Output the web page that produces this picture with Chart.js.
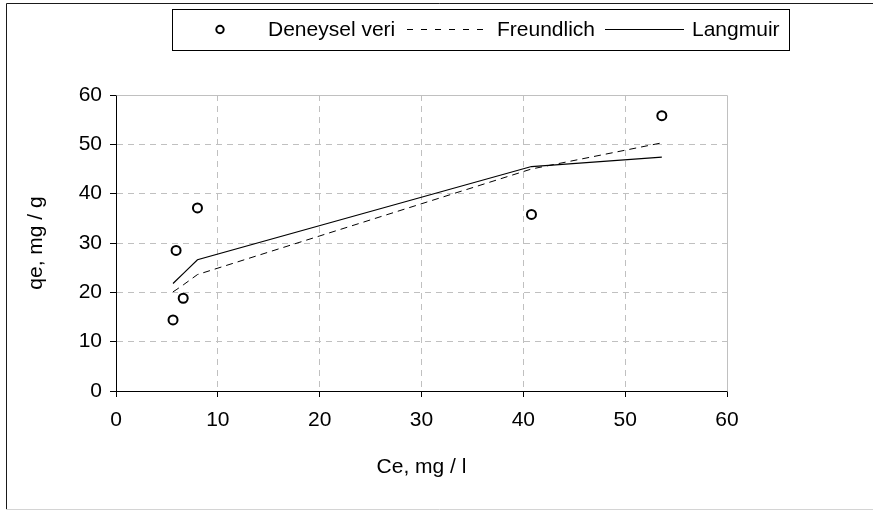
<!DOCTYPE html>
<html>
<head>
<meta charset="utf-8">
<script src="https://cdn.jsdelivr.net/npm/chart.js@4/dist/chart.umd.min.js"></script>
<style>
  html, body { margin: 0; padding: 0; background: #ffffff; }
  #wrap { width: 873px; height: 511px; position: relative; }
</style>
</head>
<body>
<div id="wrap"><canvas id="chart" width="873" height="511"></canvas></div>
<script>
// Equilibrium concentration (mg/l) and adsorbed amount (mg/g)
const ceValues      = [5.6, 5.9, 6.6, 8.0, 40.8, 53.6];
const qeMeasured    = [14.4, 28.5, 18.8, 37.1, 35.8, 55.8];
const qeFreundlich  = [20.1, 20.5, 21.5, 23.6, 45.0, 50.3];
const qeLangmuir    = [21.8, 22.4, 23.8, 26.6, 45.5, 47.4];
const seriesNames   = ['Deneysel veri', 'Freundlich', 'Langmuir'];
const axisTicks     = [0, 10, 20, 30, 40, 50, 60];

const FONT = '"Liberation Sans", Arial, sans-serif';
const FONT_SIZE = 21;
const toPoints = ys => ceValues.map((x, i) => ({ x: x, y: ys[i] }));

// Frame around the whole figure and the plot area
const framePlugin = {
  id: 'frame',
  beforeDatasetsDraw(chart) {
    const { ctx, chartArea: a } = chart;
    ctx.save();
    ctx.strokeStyle = '#c0c0c0';
    ctx.lineWidth = 1;
    ctx.beginPath();
    ctx.moveTo(Math.round(a.left) + 0.5, Math.round(a.top) + 0.5);
    ctx.lineTo(Math.round(a.right) + 0.5, Math.round(a.top) + 0.5);
    ctx.lineTo(Math.round(a.right) + 0.5, Math.round(a.bottom) + 0.5);
    ctx.stroke();
    ctx.restore();
  },
  afterDraw(chart) {
    const { ctx } = chart;
    ctx.save();
    ctx.lineWidth = 1;
    ctx.strokeStyle = '#1a1a1a';
    ctx.beginPath();
    ctx.moveTo(6.5, 510);
    ctx.lineTo(6.5, 3.5);
    ctx.lineTo(873, 3.5);
    ctx.stroke();
    ctx.strokeStyle = '#d4d4d4';
    ctx.beginPath();
    ctx.moveTo(6, 509.5);
    ctx.lineTo(873, 509.5);
    ctx.stroke();
    ctx.restore();
  }
};

// Boxed legend across the top
const boxLegend = {
  id: 'boxLegend',
  afterDraw(chart) {
    const { ctx } = chart;
    const ds = chart.data.datasets;
    const cy = 29.5;
    ctx.save();
    ctx.strokeStyle = '#000';
    ctx.lineWidth = 1;
    ctx.strokeRect(172.5, 9.5, 617, 41);

    ctx.font = FONT_SIZE + 'px ' + FONT;
    ctx.fillStyle = '#000';
    ctx.textBaseline = 'middle';
    ctx.textAlign = 'left';

    // measured points marker
    ctx.lineWidth = 2;
    ctx.beginPath();
    ctx.arc(220, cy, 3.7, 0, Math.PI * 2);
    ctx.stroke();
    ctx.fillText(ds[0].label, 268, cy + 1);

    // Freundlich dashed sample
    ctx.lineWidth = 1;
    ctx.setLineDash([6, 8]);
    ctx.beginPath();
    ctx.moveTo(407, cy);
    ctx.lineTo(490, cy);
    ctx.stroke();
    ctx.setLineDash([]);
    ctx.fillText(ds[1].label, 497, cy + 1);

    // Langmuir solid sample
    ctx.beginPath();
    ctx.moveTo(605, cy);
    ctx.lineTo(684, cy);
    ctx.stroke();
    ctx.fillText(ds[2].label, 692, cy + 1);
    ctx.restore();
  }
};

const gridColor = ctx => {
  const v = ctx.tick ? ctx.tick.value : null;
  return (v === axisTicks[0] || v === axisTicks[axisTicks.length - 1]) ? 'rgba(0,0,0,0)' : '#c0c0c0';
};

const axisCommon = {
  type: 'linear',
  min: axisTicks[0],
  max: axisTicks[axisTicks.length - 1],
  grid: {
    color: gridColor,
    lineWidth: 1,
    drawTicks: true,
    tickLength: 6,
    tickColor: '#000',
    tickWidth: 1
  },
  border: { display: true, color: '#000', width: 1, dash: [6, 5] }
};

new Chart(document.getElementById('chart'), {
  type: 'scatter',
  data: {
    datasets: [
      {
        label: seriesNames[0],
        data: toPoints(qeMeasured),
        showLine: false,
        pointStyle: 'circle',
        pointRadius: 4.5,
        pointBorderWidth: 2,
        pointBorderColor: '#000',
        pointBackgroundColor: 'rgba(255,255,255,0)',
        order: 0
      },
      {
        label: seriesNames[1],
        data: toPoints(qeFreundlich),
        showLine: true,
        borderColor: '#000',
        borderWidth: 1,
        borderDash: [7, 5],
        pointRadius: 0,
        fill: false,
        tension: 0,
        order: 1
      },
      {
        label: seriesNames[2],
        data: toPoints(qeLangmuir),
        showLine: true,
        borderColor: '#000',
        borderWidth: 1.2,
        pointRadius: 0,
        fill: false,
        tension: 0,
        order: 2
      }
    ]
  },
  options: {
    responsive: false,
    animation: false,
    devicePixelRatio: 1,
    layout: { padding: { left: 0, top: 95, right: 146, bottom: 0 } },
    plugins: {
      legend: { display: false },
      tooltip: { enabled: false },
      title: { display: false }
    },
    scales: {
      x: Object.assign({}, axisCommon, {
        position: 'bottom',
        afterBuildTicks: s => { s.ticks = axisTicks.map(v => ({ value: v })); },
        afterFit: s => { s.height = 120; },
        ticks: {
          color: '#000',
          font: { family: FONT, size: FONT_SIZE },
          padding: 11,
          maxRotation: 0
        },
        title: {
          display: true,
          text: 'Ce, mg / l',
          color: '#000',
          font: { family: FONT, size: FONT_SIZE },
          padding: { top: 0, bottom: 31 }
        }
      }),
      y: Object.assign({}, axisCommon, {
        position: 'left',
        afterBuildTicks: s => { s.ticks = axisTicks.map(v => ({ value: v })); },
        afterFit: s => { s.width = 116; },
        ticks: {
          color: '#000',
          font: { family: FONT, size: FONT_SIZE },
          padding: 8
        },
        title: {
          display: true,
          text: 'qe, mg / g',
          color: '#000',
          font: { family: FONT, size: FONT_SIZE },
          padding: { top: 24, bottom: 0 }
        }
      })
    }
  },
  plugins: [framePlugin, boxLegend]
});
</script>
</body>
</html>
